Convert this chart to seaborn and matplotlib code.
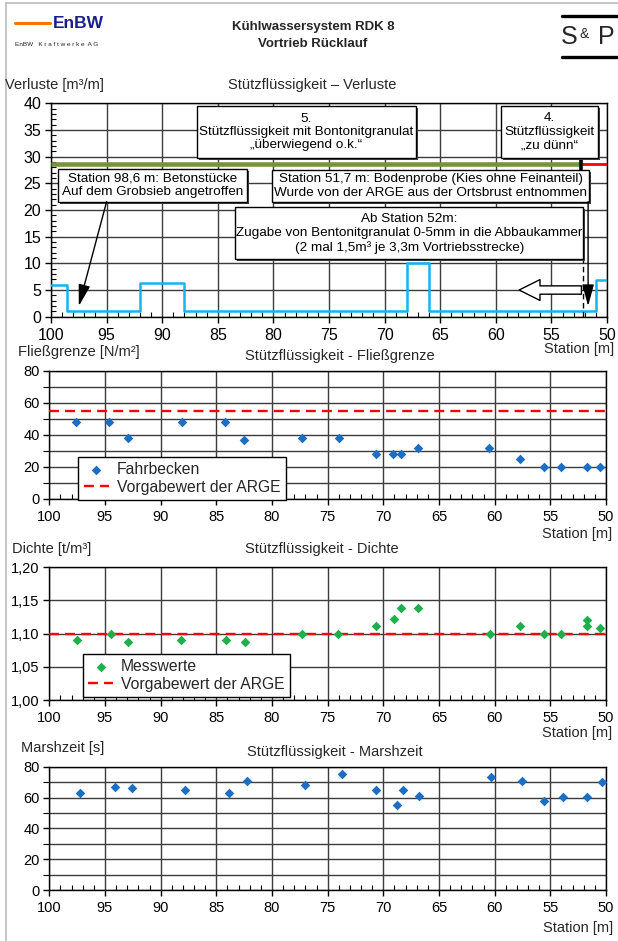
import matplotlib
matplotlib.use("Agg")
import matplotlib.pyplot as plt
import seaborn as sns
from matplotlib.patches import Rectangle
from matplotlib.lines import Line2D
import matplotlib.patheffects as pe
from matplotlib.ticker import MultipleLocator, FixedLocator

# ---------------- data ----------------
loss_station = [100, 98.6, 92, 88, 68, 66, 51, 50]
loss_value = [5.9, 1.0, 6.3, 1.0, 10.0, 1.0, 6.9, 6.9]
phase_station = [100, 52.3, 50]
phase_level = 28.6

fg_station = [97.6, 94.6, 92.9, 88.1, 84.2, 82.5, 77.3, 74.0, 70.7, 69.1, 68.4,
              66.9, 60.5, 57.7, 55.6, 54.0, 51.7, 50.5]
fg_value = [48, 48, 38, 48, 48, 37, 38, 38, 28, 28, 28, 32, 32, 25, 20, 20, 20, 20]
fg_target = 55

dens_station = [97.5, 94.5, 92.9, 88.2, 84.1, 82.4, 77.3, 74.1, 70.7, 69.0, 68.4,
                66.9, 60.4, 57.7, 55.6, 54.0, 51.7, 51.7, 50.5]
dens_value = [1.090, 1.100, 1.087, 1.090, 1.090, 1.087, 1.100, 1.100, 1.111, 1.122,
              1.139, 1.139, 1.100, 1.111, 1.100, 1.100, 1.121, 1.111, 1.109]
dens_target = 1.10

marsh_station = [97.2, 94.1, 92.6, 87.8, 83.9, 82.2, 77.0, 73.7, 70.7, 68.8, 68.2,
                 66.8, 60.3, 57.5, 55.6, 53.9, 51.7, 50.4]
marsh_value = [63, 67, 66, 65, 63, 70.5, 68, 75, 65, 55, 65, 61, 73, 71, 57.5, 60.5,
               60.5, 70]

x_ticks = [100, 95, 90, 85, 80, 75, 70, 65, 60, 55, 50]
x_labels = ["100", "95", "90", "85", "80", "75", "70", "65", "60", "55", "50"]
loss_yticks = [0, 5, 10, 15, 20, 25, 30, 35, 40]
fg_yticks = [0, 20, 40, 60, 80]
dens_yticks = [1.00, 1.05, 1.10, 1.15, 1.20]
dens_ylabels = ["1,00", "1,05", "1,10", "1,15", "1,20"]
marsh_yticks = [0, 20, 40, 60, 80]

# ---------------- style ----------------
sns.set_theme(style="white")
plt.rcParams["font.family"] = ["Liberation Sans", "DejaVu Sans"]
plt.rcParams["axes.unicode_minus"] = False

BLUE = "#1a6fc4"
GREEN = "#1fae4c"
W, H = 618, 941
fig = plt.figure(figsize=(W / 100, H / 100), dpi=100)
fig.patch.set_facecolor("white")


def fx(px):
    return px / W


def fy(py):
    return 1 - py / H


def axes_px(l, t, r, b):
    return fig.add_axes([l / W, 1 - b / H, (r - l) / W, (b - t) / H])


def style(ax, ylim, yticks, ylabels=None, yminor=None, ygridminor=False, fs=10.5):
    ax.set_facecolor("white")
    ax.set_xlim(100, 50)
    ax.set_ylim(*ylim)
    ax.xaxis.set_major_locator(FixedLocator(x_ticks))
    ax.set_xticklabels(x_labels)
    ax.xaxis.set_minor_locator(MultipleLocator(1))
    ax.yaxis.set_major_locator(FixedLocator(yticks))
    if ylabels is not None:
        ax.set_yticklabels(ylabels)
    if yminor:
        ax.yaxis.set_minor_locator(MultipleLocator(yminor))
    ax.tick_params(which="major", direction="out", length=4, width=1, color="black",
                   labelsize=fs, pad=3, labelcolor="black")
    ax.tick_params(axis="x", which="major", pad=4)
    ax.tick_params(which="minor", direction="in", length=3.5, width=0.8, color="black")
    ax.tick_params(axis="x", which="both", bottom=True, top=False)
    ax.tick_params(axis="y", which="both", left=True, right=False)
    ax.grid(False)
    ax.grid(True, which="major", color="#3c3c3c", lw=1.0)
    if ygridminor:
        ax.grid(True, which="minor", axis="y", color="#3c3c3c", lw=1.0)
    for s in ax.spines.values():
        s.set_color("black")
        s.set_linewidth(1.0)
    ax.set_axisbelow(True)
    ax.set_xlabel("")
    ax.set_ylabel("")


# ---------------- panel 1: Verluste ----------------
ax1 = axes_px(51, 103.3, 607, 316.7)
sns.lineplot(x=loss_station, y=loss_value, ax=ax1, sort=False, estimator=None,
             drawstyle="steps-post", color="#14b4f0", lw=1.8, zorder=3)
style(ax1, (0, 40), loss_yticks, yminor=1, fs=11.5)
ax1.plot(phase_station[:2], [phase_level] * 2, color="#77933c", lw=3.3,
         solid_capstyle="butt", zorder=3)
ax1.plot(phase_station[1:], [phase_level] * 2, color="#ff0000", lw=2.0,
         solid_capstyle="butt", zorder=3)
ax1.plot([phase_station[1]] * 2, [27.5, 29.8], color="black", lw=2.6,
         solid_capstyle="butt", zorder=4)

shadow = [pe.SimplePatchShadow(offset=(1.4, -1.4), shadow_rgbFace="#444444", alpha=1),
          pe.Normal()]


def box(x0, x1, y0, y1, text, ls=1.15):
    r = Rectangle((x0, y0), x1 - x0, y1 - y0, fc="white", ec="black", lw=1.0,
                  zorder=5, path_effects=shadow)
    ax1.add_patch(r)
    ax1.text((x0 + x1) / 2, (y0 + y1) / 2, text, ha="center", va="center",
             fontsize=9.7, linespacing=ls, zorder=6, color="black")


box(86.9, 67.18, 29.81, 39.56,
    "5.\nStützflüssigkeit mit Bontonitgranulat\n„überwiegend o.k.“", 1.12)
box(59.56, 50.78, 29.81, 39.56, "4.\nStützflüssigkeit\n„zu dünn“", 1.15)
box(99.34, 82.35, 21.56, 27.69,
    "Station 98,6 m: Betonstücke\nAuf dem Grobsieb angetroffen", 1.2)
box(80.15, 51.59, 21.56, 27.5,
    "Station 51,7 m: Bodenprobe (Kies ohne Feinanteil)\n"
    "Wurde von der ARGE aus der Ortsbrust entnommen", 1.2)
box(83.43, 52.13, 10.76, 20.51,
    "Ab Station 52m:\nZugabe von Bentonitgranulat 0-5mm in die Abbaukammer\n"
    "(2 mal 1,5m³ je 3,3m Vortriebsstrecke)", 1.2)

arrow_kw = dict(arrowstyle="-|>,head_length=1.1,head_width=0.3", color="black",
                lw=1.0, mutation_scale=12, shrinkA=0, shrinkB=0)
ax1.annotate("", xy=(97.5, 2.0), xytext=(95.0, 21.56), arrowprops=arrow_kw, zorder=6)
ax1.annotate("", xy=(51.7, 2.0), xytext=(51.7, 21.56), arrowprops=arrow_kw, zorder=6)
ax1.plot([52.2, 52.2], [0, 10.76], color="black", lw=1.0, ls=(0, (4, 2.5)), zorder=4)
ax1.annotate("", xy=(57.9, 5.0), xytext=(52.3, 5.0),
             arrowprops=dict(arrowstyle="simple,head_length=1.0,head_width=1.0,tail_width=0.4",
                             fc="white", ec="black", lw=1.0, mutation_scale=15,
                             shrinkA=0, shrinkB=0), zorder=6)

# ---------------- panel 2: Fließgrenze ----------------
ax2 = axes_px(49.3, 370.7, 606, 499)
sns.scatterplot(x=fg_station, y=fg_value, ax=ax2, marker="D", color=BLUE, s=24,
                linewidth=0, label="Fahrbecken", zorder=4)
ax2.axhline(fg_target, color="red", lw=1.7, dashes=(4.2, 2.6),
            label="Vorgabewert der ARGE", zorder=3)
style(ax2, (0, 80), fg_yticks, yminor=10, ygridminor=True)
ax2.tick_params(axis="y", which="minor", direction="out", length=4)
leg_kw = dict(loc="upper left", bbox_transform=fig.transFigure, frameon=True,
              fancybox=False, edgecolor="black", framealpha=1, borderaxespad=0,
              handlelength=1.6, handletextpad=0.5, borderpad=0.35,
              labelspacing=0.15, fontsize=11.3, scatterpoints=1)
lg = ax2.legend(bbox_to_anchor=(fx(78.3), fy(456.7)), **leg_kw)
lg.get_frame().set_linewidth(1.0)

# ---------------- panel 3: Dichte ----------------
ax3 = axes_px(49.3, 567.3, 606, 700)
sns.scatterplot(x=dens_station, y=dens_value, ax=ax3, marker="D", color=GREEN, s=24,
                linewidth=0, label="Messwerte", zorder=4)
ax3.axhline(dens_target, color="red", lw=1.7, dashes=(4.2, 2.6),
            label="Vorgabewert der ARGE", zorder=3)
style(ax3, (1.0, 1.2), dens_yticks, dens_ylabels)
lg = ax3.legend(bbox_to_anchor=(fx(82.7), fy(654)), **leg_kw)
lg.get_frame().set_linewidth(1.0)

# ---------------- panel 4: Marshzeit ----------------
ax4 = axes_px(49.3, 766.7, 606, 890)
sns.scatterplot(x=marsh_station, y=marsh_value, ax=ax4, marker="D", color=BLUE, s=24,
                linewidth=0, zorder=4)
style(ax4, (0, 80), marsh_yticks, yminor=10, ygridminor=True)
ax4.tick_params(axis="y", which="minor", direction="out", length=4)

# ---------------- texts ----------------
fs_lab = 10.5
fig.text(fx(5), fy(85), "Verluste [m³/m]", ha="left", va="center", fontsize=fs_lab)
fig.text(fx(228), fy(85), "Stützflüssigkeit – Verluste", ha="left", va="center", fontsize=fs_lab)
fig.text(fx(614), fy(349), "Station [m]", ha="right", va="center", fontsize=fs_lab)

fig.text(fx(18), fy(352), "Fließgrenze [N/m²]", ha="left", va="center", fontsize=fs_lab)
fig.text(fx(245), fy(356), "Stützflüssigkeit - Fließgrenze", ha="left", va="center", fontsize=fs_lab)
fig.text(fx(612), fy(534), "Station [m]", ha="right", va="center", fontsize=fs_lab)

fig.text(fx(12), fy(549), "Dichte [t/m³]", ha="left", va="center", fontsize=fs_lab)
fig.text(fx(245), fy(549), "Stützflüssigkeit - Dichte", ha="left", va="center", fontsize=fs_lab)
fig.text(fx(612), fy(733), "Station [m]", ha="right", va="center", fontsize=fs_lab)

fig.text(fx(21), fy(748), "Marshzeit [s]", ha="left", va="center", fontsize=fs_lab)
fig.text(fx(247), fy(752), "Stützflüssigkeit - Marshzeit", ha="left", va="center", fontsize=fs_lab)
fig.text(fx(613), fy(928), "Station [m]", ha="right", va="center", fontsize=fs_lab)

# header
fig.add_artist(Line2D([fx(15), fx(50)], [fy(23), fy(23)], color="#f07800", lw=2.2))
fig.text(fx(53), fy(23), "EnBW", ha="left", va="center", fontsize=12.5,
         fontweight="bold", color="#1b1e8c")
fig.text(fx(15), fy(45), "EnBW   K r a f t w e r k e  A G", ha="left", va="center",
         fontsize=4.6, color="#222222")
fig.text(fx(313), fy(27), "Kühlwassersystem RDK 8", ha="center", va="center",
         fontsize=9.5, fontweight="bold")
fig.text(fx(313), fy(44), "Vortrieb Rücklauf", ha="center", va="center",
         fontsize=9.5, fontweight="bold")
fig.add_artist(Line2D([fx(562), fx(618)], [fy(16), fy(16)], color="black", lw=2.4))
fig.add_artist(Line2D([fx(562), fx(618)], [fy(57), fy(57)], color="black", lw=2.4))
fig.text(fx(561), fy(37), "S", ha="left", va="center", fontsize=18)
fig.text(fx(580), fy(34), "&", ha="left", va="center", fontsize=10)
fig.text(fx(598), fy(37), "P", ha="left", va="center", fontsize=18)

# page frame
fig.add_artist(Line2D([fx(6), fx(6)], [fy(3), 0], color="#bbbbbb", lw=1.2))
fig.add_artist(Line2D([fx(6), 1], [fy(3), fy(3)], color="#bbbbbb", lw=1.2))

fig.savefig("out.png", dpi=100, facecolor="white")
